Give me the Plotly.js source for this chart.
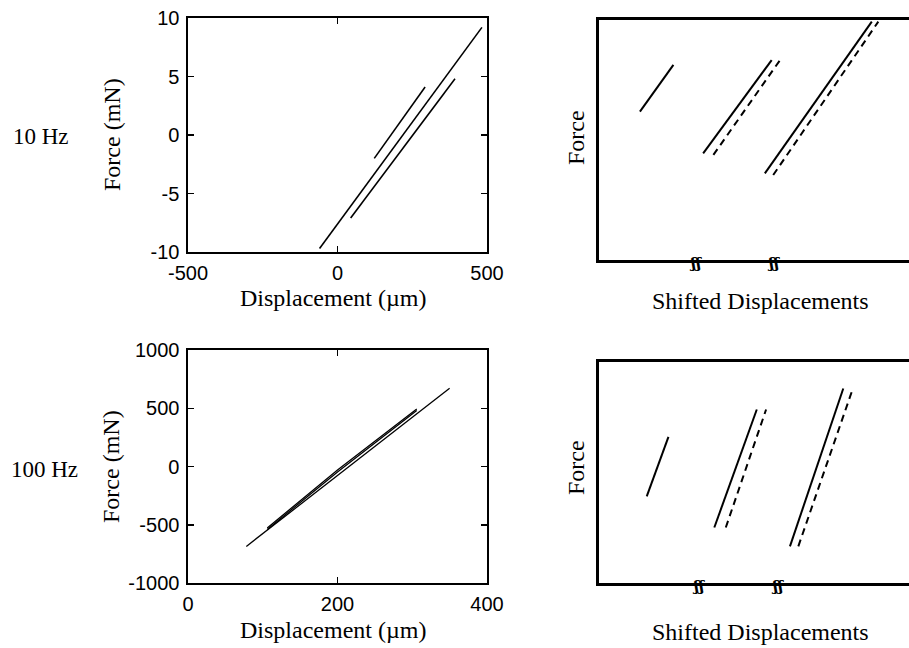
<!DOCTYPE html>
<html><head><meta charset="utf-8">
<script src="https://cdn.plot.ly/plotly-3.0.1.min.js"></script>
<style>html,body{margin:0;padding:0;background:#fff}</style>
</head><body><div id="chart" style="width:909px;height:648px"></div>
<script>
// ---- 10 Hz, raw force-displacement (µm, mN)
const hz10_longX = [-60, 100, 300, 483];
const hz10_longY = [-9.7, -4.1, 2.8, 9.2];
const hz10_upperX = [123, 200, 293];
const hz10_upperY = [-2.0, 0.8, 4.1];
const hz10_lowerX = [44, 200, 393];
const hz10_lowerY = [-7.1, -1.8, 4.8];
// ---- 100 Hz
const hz100_longX = [78, 150, 250, 350];
const hz100_longY = [-686, -327, 171, 671];
const hz100_loadX = [106, 200, 306];
const hz100_loadY = [-528, -30, 494];
const hz100_unloadX = [306, 200, 106];
const hz100_unloadY = [480, -48, -540];
// ---- shifted displacements, 10 Hz (arbitrary units)
const s10_a = {x:[13.2, 24.0], y:[61.8, 81.3]};
const s10_bSolid = {x:[33.6, 55.7], y:[44.4, 83.3]};
const s10_bDash = {x:[36.9, 58.4], y:[43.8, 83.3]};
const s10_cSolid = {x:[53.5, 88.0], y:[36.1, 99.3]};
const s10_cDash = {x:[56.2, 90.1], y:[35.4, 99.3]};
// ---- shifted displacements, 100 Hz
const s100_a = {x:[15.4, 22.4], y:[39.2, 66.1]};
const s100_bSolid = {x:[37.2, 50.9], y:[25.1, 78.5]};
const s100_bDash = {x:[40.9, 53.9], y:[25.1, 78.5]};
const s100_cSolid = {x:[61.6, 78.8], y:[16.6, 88.0]};
const s100_cDash = {x:[64.3, 81.5], y:[16.6, 86.4]};
const breakMarks10 = [31, 56.2];
const breakMarks100 = [32, 57.7];

const W = 909, H = 648;
const px = v => v / W, py = v => 1 - v / H;
const blk = '#000';
function ln(x, y, xa, ya, opt) {
  opt = opt || {};
  return {x: x, y: y, xaxis: xa, yaxis: ya, type: 'scatter', mode: 'lines', hoverinfo: 'skip',
    line: {color: blk, width: opt.w || 1.6, dash: opt.dash || 'solid'}, showlegend: false};
}
const dashPat = '7px,5px';
const traces = [
  ln(hz10_longX, hz10_longY, 'x', 'y'),
  ln(hz10_upperX, hz10_upperY, 'x', 'y'),
  ln(hz10_lowerX, hz10_lowerY, 'x', 'y'),
  ln(hz100_longX, hz100_longY, 'x3', 'y3', {w: 1.3}),
  ln(hz100_loadX, hz100_loadY, 'x3', 'y3', {w: 1.3}),
  ln(hz100_unloadX, hz100_unloadY, 'x3', 'y3', {w: 1.3}),
  ln(s10_a.x, s10_a.y, 'x2', 'y2', {w: 2}),
  ln(s10_bSolid.x, s10_bSolid.y, 'x2', 'y2', {w: 2}),
  ln(s10_bDash.x, s10_bDash.y, 'x2', 'y2', {w: 2, dash: dashPat}),
  ln(s10_cSolid.x, s10_cSolid.y, 'x2', 'y2', {w: 2}),
  ln(s10_cDash.x, s10_cDash.y, 'x2', 'y2', {w: 2, dash: dashPat}),
  ln(s100_a.x, s100_a.y, 'x4', 'y4', {w: 2}),
  ln(s100_bSolid.x, s100_bSolid.y, 'x4', 'y4', {w: 2}),
  ln(s100_bDash.x, s100_bDash.y, 'x4', 'y4', {w: 2, dash: dashPat}),
  ln(s100_cSolid.x, s100_cSolid.y, 'x4', 'y4', {w: 2}),
  ln(s100_cDash.x, s100_cDash.y, 'x4', 'y4', {w: 2, dash: dashPat})
];

const tickFont = {family: 'Liberation Sans, Arial, sans-serif', size: 20, color: blk};
const titleFont = {family: 'Liberation Serif, Times New Roman, serif', size: 24, color: blk};
function numAxis(dom, range, tickvals, anchor, isX) {
  return {domain: dom, range: range, anchor: anchor, tickmode: 'array', tickvals: tickvals,
    ticktext: tickvals.map(v => v < 0 ? '-' + Math.abs(v) : String(v)),
    ticks: 'inside', ticklen: 6, tickwidth: 1.5, tickcolor: blk, mirror: 'ticks',
    showline: true, linecolor: blk, linewidth: 1.6, showgrid: false, zeroline: false,
    tickfont: tickFont, automargin: false, ticklabelstandoff: isX ? 2 : 3};
}
function blankAxis(dom, anchor, mirror) {
  return {domain: dom, range: [0, 100], anchor: anchor, showline: true, linecolor: blk, linewidth: 2.6,
    mirror: mirror, showticklabels: false, ticks: '', showgrid: false, zeroline: false, automargin: false};
}
const annotations = [
  {text: '10 Hz', x: px(41), y: py(136), font: Object.assign({}, titleFont, {size: 23})},
  {text: '100 Hz', x: px(44), y: py(469), font: Object.assign({}, titleFont, {size: 23})},
  {text: 'Force (mN)', x: px(112), y: py(135), textangle: -90},
  {text: 'Force (mN)', x: px(111), y: py(467), textangle: -90},
  {text: 'Displacement (µm)', x: px(333), y: py(298)},
  {text: 'Displacement (µm)', x: px(333), y: py(630)},
  {text: 'Force', x: px(576), y: py(138), textangle: -90},
  {text: 'Force', x: px(576), y: py(468), textangle: -90},
  {text: 'Shifted Displacements', x: px(760), y: py(301)},
  {text: 'Shifted Displacements', x: px(760), y: py(632)}
].map(a => Object.assign({xref: 'paper', yref: 'paper', showarrow: false, font: titleFont,
  xanchor: 'center', yanchor: 'middle'}, a));
const markFont = {family: 'DejaVu Serif, serif', size: 15, color: blk};
breakMarks10.forEach(v => annotations.push({text: '<b>ʃʃ</b>', x: v, y: 0, xref: 'x2', yref: 'y2',
  showarrow: false, font: markFont, yanchor: 'middle', yshift: -3}));
breakMarks100.forEach(v => annotations.push({text: '<b>ʃʃ</b>', x: v, y: 0, xref: 'x4', yref: 'y4',
  showarrow: false, font: markFont, yanchor: 'middle', yshift: -3}));

const layout = {
  width: W, height: H, margin: {l: 0, r: 0, t: 0, b: 0}, paper_bgcolor: '#fff', plot_bgcolor: '#fff',
  showlegend: false,
  xaxis: numAxis([px(188), px(487)], [-500, 500], [-500, 0, 500], 'y', true),
  yaxis: numAxis([py(252), py(18)], [-10, 10], [-10, -5, 0, 5, 10], 'x', false),
  xaxis3: numAxis([px(188), px(487)], [0, 400], [0, 200, 400], 'y3', true),
  yaxis3: numAxis([py(583), py(350)], [-1000, 1000], [-1000, -500, 0, 500, 1000], 'x3', false),
  xaxis2: blankAxis([px(599), 1], 'y2', true),
  yaxis2: blankAxis([py(260), py(20)], 'x2', false),
  xaxis4: blankAxis([px(599), 1], 'y4', true),
  yaxis4: blankAxis([py(583), py(362)], 'x4', false),
  annotations: annotations
};
Plotly.newPlot('chart', traces, layout, {staticPlot: true, displayModeBar: false});
</script></body></html>
